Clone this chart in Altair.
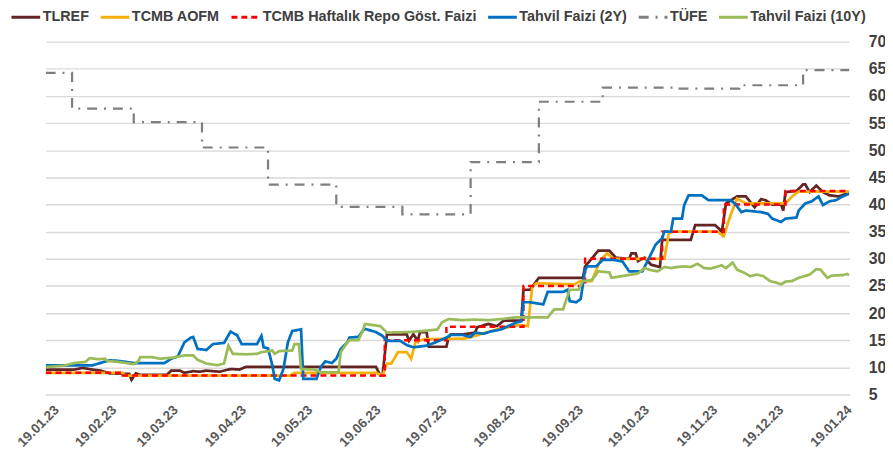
import altair as alt
import pandas as pd

START = pd.Timestamp("2023-01-19")

SERIES = ["TLREF", "TCMB AOFM", "TCMB Haftalık Repo Göst. Faizi",
          "Tahvil Faizi (2Y)", "TÜFE", "Tahvil Faizi (10Y)"]

# day offsets from 19.01.23 and values (%)
TLREF_DAYS = [0,13,17,21,25,29,36,38,39,41,43,55,57,61,63,67,70,73,79,84,88,91,150,152,153,155,164,165,167,169,
              170,173,174,182,183,184,190,195,196,201,205,208,216,217,220,224,244,245,251,256,259,265,266,268,269,
              272,275,279,280,293,295,304,306,307,309,314,318,322,325,327,330,334,335,336,341,344,345,347,350,353,
              356,360,364,365]
TLREF_VALS = [9.6,9.6,9.9,9.6,9.4,8.9,8.8,8.8,7.7,8.9,8.6,8.6,9.4,9.4,9.0,9.3,9.2,9.4,9.2,9.7,9.6,10.1,10.1,8.5,8.5,
              16.1,16.1,14.9,16.1,14.9,16.5,16.5,13.8,13.8,15.5,16.1,16.1,16.4,17.4,18.0,17.6,18.6,18.6,24.3,24.3,
              26.5,26.5,28.6,31.5,31.5,30.2,30.0,31.0,31.0,29.6,30.2,28.9,28.5,33.5,33.5,36.2,36.2,35.5,34.7,40.2,
              41.5,41.5,39.5,41.0,40.8,40.0,40.0,38.9,42.3,42.5,43.7,43.7,42.3,43.5,42.3,41.7,41.5,42.0,42.0]

AOFM_DAYS = [0,35,36,111,113,150,153,155,157,160,164,166,168,172,190,195,205,215,219,221,223,240,243,248,252,255,
             258,281,283,285,305,308,311,314,318,336,339,342,365]
AOFM_VALS = [9.0,9.0,8.5,8.5,9.0,9.0,8.5,10.7,10.7,12.8,12.8,11.6,14.7,15.2,15.3,15.8,17.0,17.8,17.6,24.9,25.5,25.3,
             25.9,25.9,29.8,31.0,30.0,30.0,34.7,35.0,35.0,34.2,38.0,41.1,40.2,40.2,41.5,42.4,42.4]

REPO_DAYS = [0,35,154,182,217,245,280,308,336,365]
REPO_VALS = [9.0,8.5,15.0,17.5,25.0,30.0,35.0,40.0,42.5,42.5]

Y2_DAYS = [0,21,29,33,40,54,57,60,63,66,67,69,73,76,81,84,87,89,96,98,99,101,103,104,106,108,110,112,116,117,
           123,125,127,130,132,134,137,138,142,144,145,150,153,155,161,164,167,173,177,182,184,189,193,195,199,
           202,207,210,214,216,217,220,226,228,235,237,238,241,243,245,246,250,253,258,262,265,271,274,277,280,
           281,284,285,289,290,292,298,301,311,313,316,318,325,328,330,334,336,341,342,345,348,351,353,356,359,
           362,365]
Y2_VALS = [10.35,10.35,11.3,11.2,10.8,10.8,11.6,12.0,14.6,15.5,15.6,13.4,13.2,14.3,14.5,16.6,15.9,14.3,14.3,15.8,
           13.7,13.5,10.3,7.9,7.6,9.7,14.6,16.7,17.0,7.9,7.9,10.1,11.1,10.8,11.6,13.4,14.6,15.5,15.6,16.7,
           17.1,16.5,15.8,14.9,14.9,14.1,13.7,14.0,14.6,15.5,16.0,16.0,15.6,16.4,16.2,16.6,17.0,17.6,18.3,18.5,
           22.0,22.0,21.6,23.9,23.9,24.3,22.2,22.0,22.6,28.0,28.6,28.6,29.8,29.8,29.5,27.7,27.7,30.1,32.6,33.8,
           35.0,35.0,37.4,37.4,39.9,41.7,41.7,40.8,40.8,40.2,38.6,38.9,38.6,38.3,37.4,36.8,37.4,37.6,38.9,40.2,
           40.6,41.5,39.9,40.6,40.8,41.5,42.0]

TUFE_DAYS = [0,12,40,71,101,132,162,193,224,253,285,315,344,365]
TUFE_VALS = [64.27,57.68,55.18,50.51,43.68,39.59,38.21,47.83,58.94,61.53,61.36,61.98,64.77,64.77]

Y10_DAYS = [0,8,13,18,20,24,27,28,33,40,42,43,48,52,58,63,67,69,73,78,81,83,85,91,96,98,103,104,106,112,
            113,115,116,122,125,133,134,137,138,142,144,145,152,155,165,174,178,180,183,189,195,201,207,213,228,
            231,235,237,238,242,244,248,250,251,256,257,260,263,266,269,272,275,278,281,284,287,290,293,296,299,
            302,307,309,312,314,317,320,323,326,329,332,334,336,339,342,347,350,352,355,357,362,364,365]
Y10_VALS = [10.05,10.3,10.8,11.0,11.7,11.5,11.6,11.2,11.0,10.6,11.1,11.9,11.9,11.6,11.8,12.2,12.2,11.4,10.7,10.4,
            10.7,14.0,12.5,12.4,12.5,12.8,13.1,12.5,13.0,13.1,14.3,14.3,9.7,9.6,9.1,9.1,12.8,14.6,15.0,15.0,
            16.7,18.0,17.6,16.4,16.5,16.8,17.0,18.3,18.9,18.7,18.8,18.7,18.9,19.2,19.2,20.7,20.7,23.1,24.3,24.3,
            25.9,26.1,27.1,27.7,27.5,26.5,26.7,26.9,27.1,27.3,28.3,27.9,27.7,28.5,28.3,28.5,28.6,28.5,29.1,28.3,
            28.2,28.8,28.3,29.3,28.0,27.5,26.8,27.1,26.8,25.9,25.6,25.3,25.8,25.9,26.5,27.1,28.1,28.0,26.5,26.9,
            27.0,27.2,27.0]

Y_TICKS = list(range(5, 75, 5))

COLORS = ["#632523", "#F5B00B", "#FF0000", "#0070C0", "#7F7F7F", "#9BBB59"]
DASHES = [[1, 0], [1, 0], [6, 4], [1, 0], [10, 7, 2, 7], [1, 0]]
WIDTHS = [2.75, 2.75, 2.5, 2.75, 2.25, 2.75]
INTERP = ["linear", "linear", "step-after", "linear", "step-after", "linear"]

raw = [(TLREF_DAYS, TLREF_VALS), (AOFM_DAYS, AOFM_VALS), (REPO_DAYS, REPO_VALS),
       (Y2_DAYS, Y2_VALS), (TUFE_DAYS, TUFE_VALS), (Y10_DAYS, Y10_VALS)]
frames = []
for name, (days, vals) in zip(SERIES, raw):
    assert len(days) == len(vals), name
    dates = [(START + pd.Timedelta(days=int(d))).strftime("%Y-%m-%dT00:00:00") for d in days]
    frames.append(pd.DataFrame({"date": dates, "value": vals, "series": name}))
df = pd.concat(frames, ignore_index=True)

tick_dates = [alt.DateTime(year=2023, month=m, date=19) for m in range(1, 13)] + \
             [alt.DateTime(year=2024, month=1, date=19)]

x_enc = alt.X("date:T",
              scale=alt.Scale(domain=[alt.DateTime(year=2023, month=1, date=19),
                                      alt.DateTime(year=2024, month=1, date=19)]),
              axis=alt.Axis(values=tick_dates, format="%d.%m.%y", labelAngle=-45,
                            labelAlign="right", labelBaseline="middle", labelPadding=13,
                            labelOffset={"condition": {"test": "datum.index === 0", "value": 11}, "value": 0},
                            labelFont="Liberation Sans", labelFontWeight="bold", labelFontSize=13.5,
                            labelColor="#595959", domain=False, ticks=False, grid=False, title=None,
                            labelOverlap=False, labelBound=False, labelFlush=False))
y_enc = alt.Y("value:Q",
              scale=alt.Scale(domain=[5, 70], nice=False, zero=False),
              axis=alt.Axis(orient="right", values=Y_TICKS, domain=False, ticks=False,
                            grid=True, gridColor="#D9D9D9", gridWidth=1.3, labelPadding=19,
                            labelFont="Liberation Sans", labelFontWeight="bold", labelFontSize=16,
                            labelColor="#404040", title=None, labelAlign="left"))
color_enc = alt.Color("series:N", scale=alt.Scale(domain=SERIES, range=COLORS),
                      legend=alt.Legend(title=None))
dash_enc = alt.StrokeDash("series:N", scale=alt.Scale(domain=SERIES, range=DASHES),
                          legend=alt.Legend(title=None))

layers = []
for name, w, itp in zip(SERIES, WIDTHS, INTERP):
    layers.append(
        alt.Chart(df).transform_filter(alt.datum.series == name)
        .mark_line(strokeWidth=w, interpolate=itp, clip=True)
        .encode(x=x_enc, y=y_enc, color=color_enc, strokeDash=dash_enc)
    )

chart = alt.layer(*layers).properties(
    width=811, height=356,
    autosize=alt.AutoSizeParams(type="none"),
    padding={"left": 38, "top": 32, "right": 36, "bottom": 58},
).configure_view(stroke=None).configure_legend(
    orient="none", legendX=-36, legendY=-41, direction="horizontal", columns=6,
    symbolType="stroke", symbolSize=841, symbolStrokeWidth=3, labelOffset=1, columnPadding=5,
    labelFont="Liberation Sans", labelFontWeight="bold", labelFontSize=14.5, labelColor="#404040",
    labelLimit=400,
)

chart.save("out.html", embed_options={"renderer": "svg", "actions": False})
